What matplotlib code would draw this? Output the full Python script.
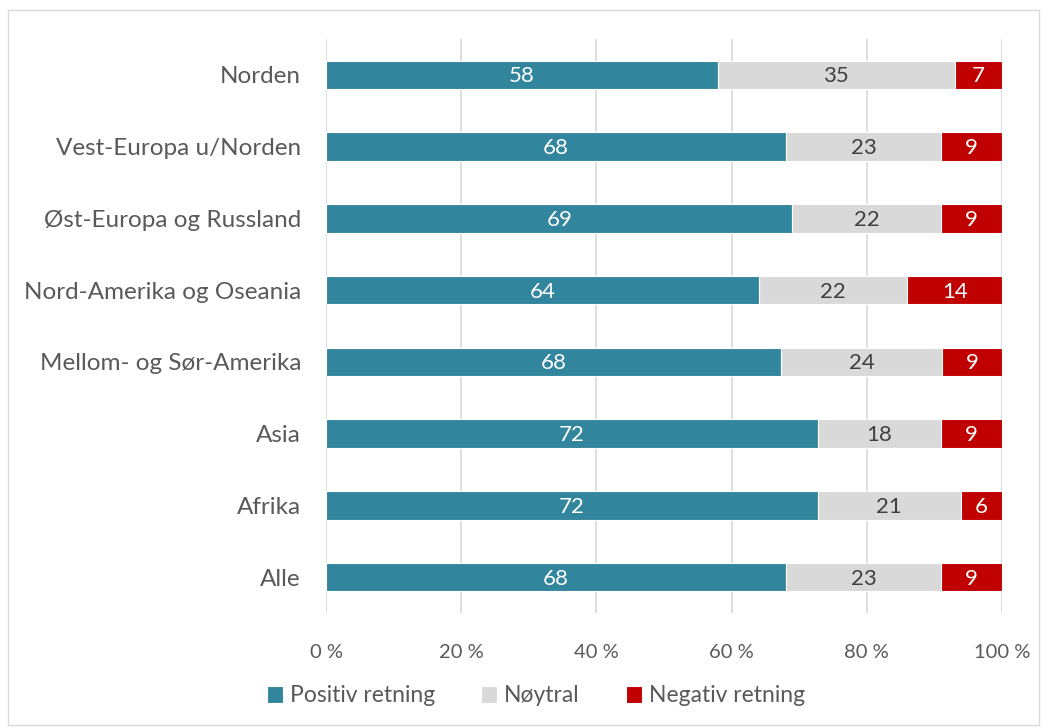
import matplotlib.pyplot as plt
from matplotlib.patches import Rectangle
import numpy as np

plt.rcParams['font.family'] = ['Lato', 'DejaVu Sans']

# data (top to bottom)
regions = ['Norden', 'Vest-Europa u/Norden', 'Øst-Europa og Russland',
           'Nord-Amerika og Oseania', 'Mellom- og Sør-Amerika', 'Asia',
           'Afrika', 'Alle']
positiv = [58, 68, 69, 64, 68, 72, 72, 68]
noytral = [35, 23, 22, 22, 24, 18, 21, 23]
negativ = [7, 9, 9, 14, 9, 9, 6, 9]
series_names = ['Positiv retning', 'Nøytral', 'Negativ retning']
colors = ['#31859C', '#D9D9D9', '#C00000']
label_colors = ['white', '#404040', 'white']

txt = '#595959'

fig = plt.figure(figsize=(10.42, 7.28), dpi=100)
ax = fig.add_axes([326 / 1042, 1 - 613 / 728, 676 / 1042, (613 - 39) / 728])

# border around the whole chart area
fig.patches.append(Rectangle((8 / 1042, 3 / 728), 1031 / 1042, 715 / 728,
                             transform=fig.transFigure, fill=False,
                             edgecolor='#D9D9D9', linewidth=1))

vals = np.array([positiv, noytral, negativ], dtype=float)
shares = vals / vals.sum(axis=0) * 100
y = np.arange(len(regions))[::-1]

left = np.zeros(len(regions))
for i in range(3):
    ax.barh(y, shares[i], left=left, height=0.4, color=colors[i],
            edgecolor='white', linewidth=0.8, label=series_names[i], zorder=3)
    for yy, l, w, v in zip(y, left, shares[i], vals[i]):
        ax.text(l + w / 2, yy - 0.02, f'{int(v)}', ha='center', va='center',
                color=label_colors[i], fontsize=16, zorder=4)
    left += shares[i]

ax.set_xlim(0, 100)
ax.set_ylim(-0.5, len(regions) - 0.5)
ax.set_yticks(y)
ax.set_yticklabels(regions)
ax.set_xticks(np.arange(0, 101, 20))
ax.set_xticklabels([f'{t} %' for t in range(0, 101, 20)])
ax.tick_params(axis='both', length=0, colors=txt, labelcolor=txt)
ax.tick_params(axis='x', pad=22, labelsize=14.5)
ax.tick_params(axis='y', pad=18, labelsize=17.5)
ax.grid(axis='x', color='#D9D9D9', linewidth=1.2, zorder=0)
for s in ax.spines.values():
    s.set_visible(False)

leg = fig.legend(loc='center', bbox_to_anchor=(536 / 1042, 1 - 696 / 728), ncol=3,
                 frameon=False, fontsize=16.5, handlelength=0.7, handleheight=0.7,
                 handletextpad=0.3, columnspacing=2.0)
for t in leg.get_texts():
    t.set_color(txt)

fig.savefig('out.png', dpi=100)
